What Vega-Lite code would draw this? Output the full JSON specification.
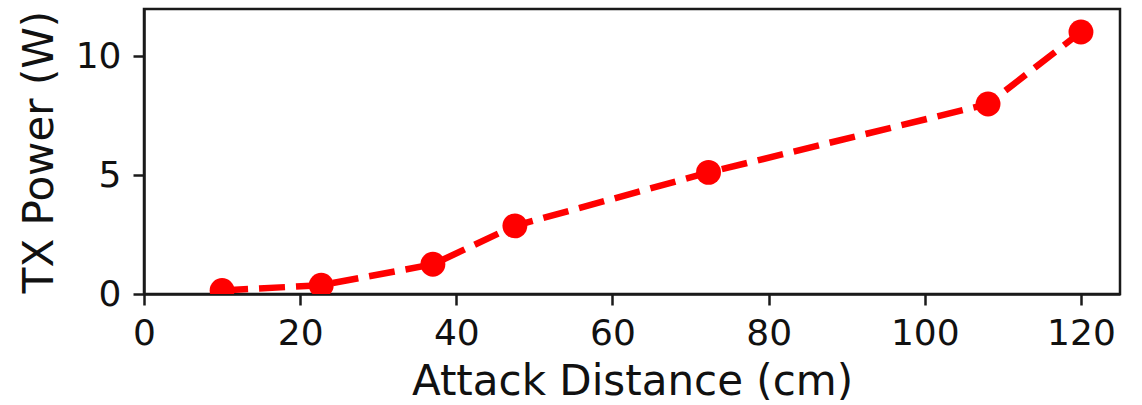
{
  "$schema": "https://vega.github.io/schema/vega-lite/v6.json",
  "width": 976,
  "height": 285,
  "autosize": {"type": "none"},
  "padding": {"left": 144, "top": 9, "right": 22, "bottom": 111},
  "background": "white",
  "config": {
    "font": "DejaVu Sans",
    "view": {"stroke": "#1a1a1a", "strokeWidth": 2.5},
    "axis": {
      "grid": false,
      "labelFlush": false,
      "labelOverlap": false,
      "domainColor": "#1a1a1a",
      "domainWidth": 2.5,
      "tickColor": "#1a1a1a",
      "tickWidth": 2.5,
      "tickSize": 11,
      "labelFont": "DejaVu Sans",
      "labelFontSize": 36,
      "labelColor": "#111",
      "titleFont": "DejaVu Sans",
      "titleFontSize": 42,
      "titleFontWeight": "normal",
      "titleColor": "#111"
    }
  },
  "data": {
    "values": [
      {"distance": 10, "power": 0.15},
      {"distance": 22.7, "power": 0.37},
      {"distance": 37, "power": 1.25},
      {"distance": 47.5, "power": 2.87},
      {"distance": 72.3, "power": 5.12},
      {"distance": 108.1, "power": 8.0},
      {"distance": 120, "power": 11.03}
    ]
  },
  "encoding": {
    "x": {
      "field": "distance",
      "type": "quantitative",
      "scale": {"domain": [0, 125], "nice": false, "zero": false},
      "axis": {"values": [0, 20, 40, 60, 80, 100, 120], "title": "Attack Distance (cm)", "labelPadding": 11, "titlePadding": 10}
    },
    "y": {
      "field": "power",
      "type": "quantitative",
      "scale": {"domain": [0, 12], "nice": false, "zero": false},
      "axis": {"values": [0, 5, 10], "title": "TX Power (W)", "labelPadding": 12, "titlePadding": 14}
    }
  },
  "layer": [
    {
      "mark": {"type": "line", "color": "#ff0000", "strokeWidth": 6.5, "strokeDash": [26, 11], "clip": true}
    },
    {
      "mark": {"type": "point", "filled": true, "color": "#ff0000", "size": 620, "opacity": 1, "clip": true}
    }
  ]
}
